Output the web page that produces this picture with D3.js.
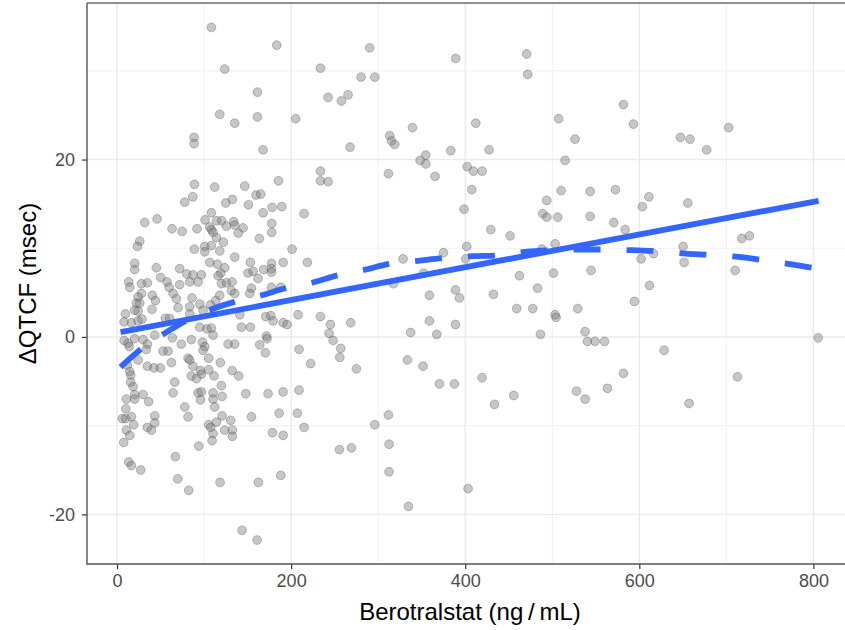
<!DOCTYPE html>
<html>
<head>
<meta charset="utf-8">
<script src="https://cdn.jsdelivr.net/npm/d3@7"></script>
<style>
  body { margin: 0; background: #fff; }
  svg { display: block; }
  text { font-family: "Liberation Sans", Arial, Helvetica, sans-serif; }
</style>
</head>
<body>
<svg id="chart" width="845" height="630"></svg>
<script>
// Observed berotralstat plasma concentration (ng/mL) for each ECG time point
const concentration = [
  108.4,183.5,290.3,389.1,123.7,233.7,280.4,296.1,161.3,242.5,257.8,265.4,118,161.3,135.2,205.3,339.4,412.1,88.5,88.5,
  167.8,267.7,313.3,315.2,319,233.7,233.7,242.5,214.9,185.4,146.7,112.2,88.9,87,77.8,159.7,165.1,132.5,124.9,150.9,
  178.1,189.2,167.8,108.4,31.8,46,63.2,74.7,91.9,101.1,114.5,120.3,106.5,108.4,110.3,114.2,122.2,125.6,134,135.2,
  144.8,139.4,177.7,177.7,163.6,26.1,23.4,88.9,100.8,108.4,201.1,100.8,118,
  20.3,20.3,45.2,72,80.1,87.3,96.9,106.5,115.3,123.7,119.1,116.1,135.2,153.2,150.5,156.3,162,168.5,177.4,177.4,
  177.4,190.8,218.7,13.4,14.6,28,34.9,50.2,57.5,59.8,72,83.5,93.1,119.9,125.6,132.2,131.4,135.2,154.4,152.5,
  177.4,188.1,28,24.2,22.2,26.1,40.6,44.1,64.4,68.2,86.2,113.4,118,95,98.8,107.3,40.2,24.2,20.3,70.1,
  83.5,9.6,8.1,16.5,24.2,28.7,55.5,60.5,83.5,141,170.8,176.6,179.3,190.8,195.4,208,233.6,245.1,268.5,95,
  103.4,108.4,142.9,153.2,43.3,63.6,85.4,110.3,171.6,172.4,8.1,12.7,14.2,20.3,29.9,34.9,33.7,52.9,58.6,73.9,
  98.1,100.8,98.8,127.6,135.2,163.9,170.5,209.1,243.6,248.2,257,255.9,222.5,275,24.2,11.9,14.6,15.7,34.9,42.5,
  49.8,62.5,81.6,83.5,87.3,105.3,118.7,95.8,96.9,105.3,85.4,91.2,111.5,132.2,139.8,15.7,18.4,66.3,119.9,20.3,
  20.3,29.9,36.4,10.7,64.4,93.1,96.9,95.8,110.3,110.3,112.2,120.7,147.9,173.5,190.8,209.1,77.8,81.6,10,6.1,
  10,16.5,19.2,43.3,43.3,34.9,39.5,10.7,14.6,105.3,107.6,114.2,120.7,130.6,123.7,132.5,132.5,110.3,154.4,186.2,
  207.2,214.9,178.5,190.8,296.1,
  7.7,13.4,16.5,27.2,67,69.7,82.4,93.9,109.2,118.4,162.4,188.1,143.6,160.9,255.5,269.3,
  311.8,348.2,354.7,354.7,365.4,383.4,427.4,402.2,409.4,419.4,407.5,398.7,429.4,451.6,514.8,510.2,493.7,489.1,493.7,506.3,
  543.5,572.6,543.5,570.7,583.7,610.9,603.6,655.7,717.8,726.6,650.3,651.5,616.3,602.1,710.1,611.7,594.4,628.5,805.5,712.8,
  581.8,563.4,537.7,540.4,549.2,560,529.3,527.8,537.7,544.6,501.4,503.3,488,483,503.3,504.4,477.6,459.2,486.4,462.3,
  432.4,401.8,400.6,375,352,358.9,328.6,317.5,388.8,393.4,358.9,388.8,337.4,367.3,333.6,351.6,370.4,387.6,419.4,455.8,
  470.6,471.8,581.7,593.2,507.4,526.2,647.2,658.3,677.4,702.7,
  311.8,433.6,657.2,312.5,312.5,403.3,334.8
];

// Change from baseline in QTcF (msec), paired with concentration above
const deltaQTcF = [
  34.9,32.9,32.6,31.4,30.2,30.3,29.3,29.3,27.6,27.0,26.6,27.3,25.1,24.8,24.1,24.6,23.6,24.1,22.5,21.8,
  21.1,21.4,22.7,22.1,21.7,18.7,17.6,17.5,13.9,17.6,17.0,16.9,17.2,15.8,15.2,16.0,16.1,15.5,15.1,14.9,
  14.6,14.7,14.0,14.0,12.9,13.3,12.2,11.9,12.2,13.2,13.1,13.1,12.4,12.1,11.8,11.2,10.7,12.5,13.0,12.6,
  12.3,11.7,12.8,11.8,11.1,10.8,10.2,9.9,10.2,10.3,9.9,9.6,9.7,
  8.3,7.6,7.8,7.7,7.1,7.0,7.0,8.4,8.2,7.8,7.2,6.9,9.0,8.4,7.2,7.4,6.6,7.6,8.3,7.7,
  7.3,8.4,8.4,6.2,5.6,6.0,6.1,6.7,6.2,5.6,5.9,6.2,6.2,6.0,6.1,6.2,5.2,4.9,5.5,4.9,
  5.6,5.6,4.9,4.5,3.8,3.8,4.7,4.1,4.9,4.3,4.4,4.1,4.7,3.7,3.0,3.6,3.1,2.9,3.0,3.3,
  3.4,2.6,1.7,1.6,1.8,2.0,2.1,2.1,2.6,2.5,2.3,2.4,1.8,1.6,1.4,2.5,2.3,1.4,1.6,1.1,
  0.9,1.0,1.1,1.1,0.2,-0.1,-0.3,0.2,0.1,-0.2,-0.4,-0.7,-1.1,-0.2,-0.3,-0.8,-1.4,-1.6,-1.6,-0.8,
  -0.6,-1.1,-1.5,-0.8,-0.8,-0.9,-1.8,-1.4,0.4,-0.4,-1.3,-2.3,-3.0,-3.6,-2.6,-3.2,-3.9,-4.3,-3.3,-3.5,
  -3.5,-2.9,-2.4,-2.6,-3.3,-2.4,-2.9,-3.8,-4.2,-3.7,-4.4,-4.7,-4.4,-3.8,-4.4,-5.1,-5.6,-5.1,-5.5,-6.5,
  -7.0,-6.5,-7.3,-7.0,-6.3,-6.3,-6.2,-7.1,-6.3,-7.0,-7.9,-6.7,-6.4,-6.4,-6.2,-6.0,-7.9,-9.0,-8.1,-9.2,
  -9.2,-9.0,-9.9,-8.9,-9.7,-10.2,-10.5,-10.5,-11.1,-9.9,-10.2,-9.6,-8.9,-9.4,-10.5,-10.5,-11.2,-10.9,-9.0,-8.6,
  -8.6,-10.2,-10.8,-11.1,-9.9,
  -11.9,-14.1,-14.5,-15.0,-13.5,-16.0,-17.3,-12.3,-11.7,-16.4,-16.4,-15.6,-21.8,-22.9,-12.7,-12.5,
  18.4,19.9,20.5,19.5,18.1,21.0,21.1,19.2,18.7,18.7,16.6,14.4,12.1,11.4,19.9,16.5,15.4,13.9,13.5,13.5,
  16.4,16.6,13.6,12.9,12.1,15.8,14.7,15.1,11.1,11.4,10.2,8.4,9.4,8.8,7.5,5.8,4.0,-1.5,-0.1,-4.5,
  -4.1,-5.8,0.6,-0.5,-0.5,-0.5,3.2,-6.1,-7.0,7.5,7.2,10.5,9.9,5.5,2.5,2.2,3.2,3.2,0.3,6.9,
  4.8,10.2,8.8,9.5,7.2,4.7,8.8,6.0,5.3,4.4,1.8,1.4,0.5,0.3,-2.6,-3.3,-5.3,-5.3,-4.6,-6.6,
  31.9,29.6,26.2,24.0,24.6,22.3,22.5,22.3,21.1,23.6,
  -8.8,-7.6,-7.5,-12.1,-15.2,-17.1,-19.1
];

// Ordinary least-squares fit, drawn between its end points
const linearFitX = [4, 806];
const linearFitY = [0.55, 15.35];

// LOESS smooth of the same data
const loessX = [4, 28, 53, 72, 108, 135, 166, 195, 225, 254, 286, 311, 346, 377, 408, 438, 469, 499, 530, 560, 591, 621, 653, 682, 714, 743, 775, 806];
const loessY = [-3.4, -1.35, 0.3, 1.43, 3.09, 3.95, 4.7, 5.53, 6.14, 6.96, 7.6, 8.2, 8.58, 8.91, 9.1, 9.18, 9.59, 9.78, 9.86, 9.86, 9.78, 9.67, 9.4, 9.25, 9.02, 8.65, 8.17, 7.7];

const xTicks = [0, 200, 400, 600, 800];
const xMinor = [100, 300, 500, 700];
const yTicks = [-20, 0, 20];
const yMinor = [-10, 10, 30];

const xTitle = "Berotralstat (ng\u2009/\u2009mL)";
const yTitle = "\u0394QTCF (msec)";

// ---- layout ----
const panel = { left: 87, right: 853, top: 3, bottom: 564 };
const svg = d3.select("#chart");

const x = d3.scaleLinear().domain([-34.5, 845.5]).range([panel.left, panel.right]);
const y = d3.scaleLinear().domain([-25.6, 37.65]).range([panel.bottom, panel.top]);

svg.append("defs").append("clipPath").attr("id", "panel-clip")
  .append("rect")
  .attr("x", panel.left).attr("y", panel.top)
  .attr("width", panel.right - panel.left).attr("height", panel.bottom - panel.top);

// background
svg.append("rect").attr("x", 0).attr("y", 0).attr("width", 845).attr("height", 630).attr("fill", "#fff");

const grid = svg.append("g").attr("clip-path", "url(#panel-clip)");

// minor grid
grid.selectAll("line.xminor").data(xMinor).join("line")
  .attr("x1", d => x(d)).attr("x2", d => x(d))
  .attr("y1", panel.top).attr("y2", panel.bottom)
  .attr("stroke", "#f0f0f0").attr("stroke-width", 1);
grid.selectAll("line.yminor").data(yMinor).join("line")
  .attr("y1", d => y(d)).attr("y2", d => y(d))
  .attr("x1", panel.left).attr("x2", panel.right)
  .attr("stroke", "#f0f0f0").attr("stroke-width", 1);

// major grid
grid.selectAll("line.xmajor").data(xTicks).join("line")
  .attr("x1", d => x(d)).attr("x2", d => x(d))
  .attr("y1", panel.top).attr("y2", panel.bottom)
  .attr("stroke", "#ebebeb").attr("stroke-width", 1.4);
grid.selectAll("line.ymajor").data(yTicks).join("line")
  .attr("y1", d => y(d)).attr("y2", d => y(d))
  .attr("x1", panel.left).attr("x2", panel.right)
  .attr("stroke", "#ebebeb").attr("stroke-width", 1.4);

// points
const pts = d3.zip(concentration, deltaQTcF);
const plot = svg.append("g").attr("clip-path", "url(#panel-clip)");
plot.selectAll("circle").data(pts).join("circle")
  .attr("cx", d => x(d[0]))
  .attr("cy", d => y(d[1]))
  .attr("r", 4.4)
  .attr("fill", "#7a7a7a")
  .attr("fill-opacity", 0.42)
  .attr("stroke", "#404040")
  .attr("stroke-opacity", 0.35)
  .attr("stroke-width", 0.9);

// fitted lines
const line = d3.line().x(d => x(d[0])).y(d => y(d[1]));
plot.append("path")
  .datum(d3.zip(linearFitX, linearFitY))
  .attr("d", line)
  .attr("fill", "none")
  .attr("stroke", "#3366FF")
  .attr("stroke-width", 5.8);

const smooth = d3.line().curve(d3.curveMonotoneX).x(d => x(d[0])).y(d => y(d[1]));
plot.append("path")
  .datum(d3.zip(loessX, loessY))
  .attr("d", smooth)
  .attr("fill", "none")
  .attr("stroke", "#3366FF")
  .attr("stroke-width", 5.8)
  .attr("stroke-dasharray", "27,26");

// panel edges
svg.append("line").attr("x1", panel.left).attr("x2", panel.right)
  .attr("y1", panel.top).attr("y2", panel.top)
  .attr("stroke", "#222").attr("stroke-width", 1.2);

// axes
const fmt = d => String(d);
const yAxis = d3.axisLeft(y).tickValues(yTicks).tickSize(5).tickPadding(7).tickFormat(fmt);
const gy = svg.append("g").attr("transform", `translate(${panel.left},0)`).call(yAxis);
const xAxis = d3.axisBottom(x).tickValues(xTicks).tickSize(5).tickPadding(4).tickFormat(fmt);
const gx = svg.append("g").attr("transform", `translate(0,${panel.bottom})`).call(xAxis);

[gx, gy].forEach(g => {
  g.select(".domain").remove();
  g.selectAll(".tick line").attr("stroke", "#333").attr("stroke-width", 1.2);
  g.selectAll(".tick text").attr("fill", "#4d4d4d").attr("font-size", 18)
    .style("font-family", '"Liberation Sans", Arial, sans-serif');
});
gx.selectAll(".tick text").attr("dy", "0.8em");

svg.append("line").attr("x1", panel.left).attr("x2", panel.left)
  .attr("y1", panel.top).attr("y2", panel.bottom + 0.6)
  .attr("stroke", "#555").attr("stroke-width", 1.4);
svg.append("line").attr("x1", panel.left - 0.6).attr("x2", panel.right)
  .attr("y1", panel.bottom).attr("y2", panel.bottom)
  .attr("stroke", "#555").attr("stroke-width", 1.4);

// axis titles
svg.append("text")
  .attr("x", (panel.left + panel.right) / 2)
  .attr("y", 620)
  .attr("text-anchor", "middle")
  .attr("font-size", 24)
  .attr("fill", "#000")
  .text(xTitle);

svg.append("text")
  .attr("transform", `translate(36,${(panel.top + panel.bottom) / 2}) rotate(-90)`)
  .attr("text-anchor", "middle")
  .attr("font-size", 24)
  .attr("fill", "#000")
  .text(yTitle);
</script>
</body>
</html>
